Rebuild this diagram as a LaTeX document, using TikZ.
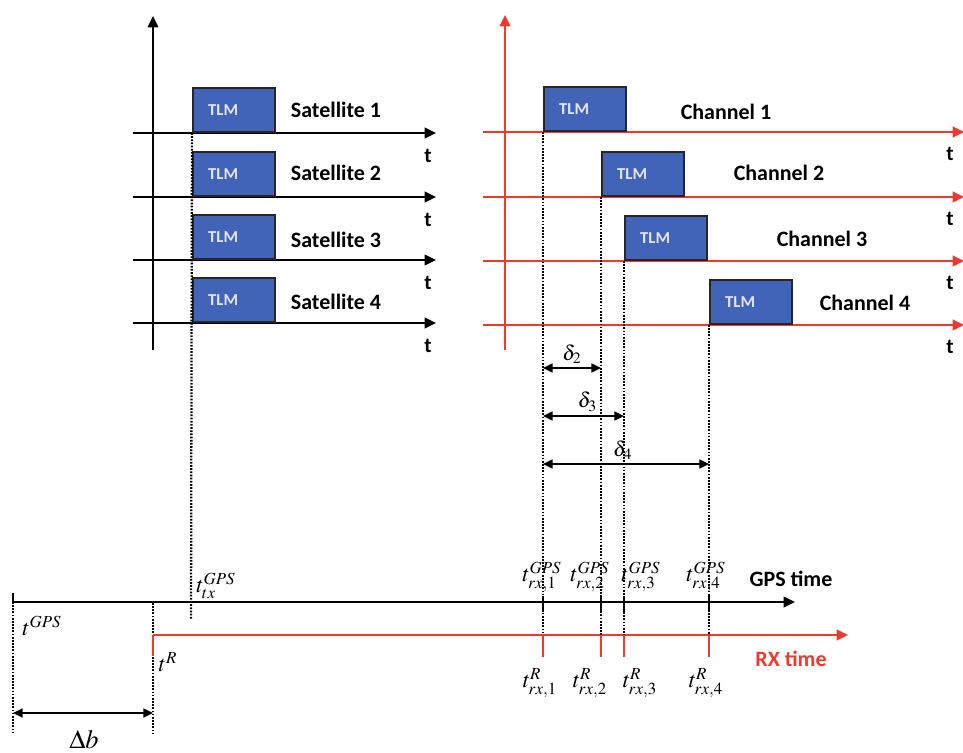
\documentclass[tikz,border=0pt]{standalone}
\usepackage{mathptmx}
\usepackage[no-math]{fontspec}
\setsansfont{Carlito}
\usetikzlibrary{arrows.meta,positioning}
\definecolor{tlmblue}{RGB}{66,100,184}
\definecolor{rxred}{RGB}{238,58,44}
\tikzset{
  axis/.style={draw=black, line width=1.2pt, -{Triangle[length=6.5pt,width=6pt]}},
  raxis/.style={draw=rxred, line width=1.4pt, -{Triangle[length=6.5pt,width=6pt]}},
  tlm/.style={draw=black!85, line width=1.4pt, fill=tlmblue, anchor=south west,
    minimum width=1.64cm, minimum height=0.88cm, inner xsep=0.3cm, inner ysep=0pt,
    text width=1.04cm, align=left, text=white!90!blue, font=\sffamily\bfseries\fontsize{9.5}{11}\selectfont},
  sigtxt/.style={font=\sffamily\bfseries\fontsize{12.5}{14}\selectfont},
  tlbl/.style={font=\sffamily\bfseries\fontsize{12}{14}\selectfont},
  vdot/.style={draw=black, line width=1.3pt, dash pattern=on 1pt off 0.8pt},
  gap/.style={draw=black, line width=1.2pt,
    {Triangle[length=5.5pt,width=5pt]}-{Triangle[length=5.5pt,width=5pt]}},
  mlbl/.style={font=\fontsize{13}{15}\selectfont, inner sep=1pt},
  dlbl/.style={font=\fontsize{12}{14}\selectfont, inner sep=1pt, above=1pt}
}
\begin{document}
\begin{tikzpicture}[x=0.02cm, y=-0.02cm]
  \useasboundingbox (0,0) rectangle (963,753);
  % satellites
  \coordinate (sbot) at (153,350);
  \coordinate (stop) at (153,16);
  \draw[axis] (sbot) -- (stop);
  \foreach \i/\y/\ly in {1/133/110,2/197/173,3/260/240,4/323/302} {
    \coordinate (sa\i) at (133,\y);
    \coordinate (sb\i) at (436,\y);
    \draw[axis] (sa\i) -- (sb\i);
    \node[tlm] (sat\i) at (192,\y) {TLM};
    \node[sigtxt] at (336,\ly) {Satellite \i};
    \node[tlbl] at (428,\y+23) {t};
  }
  % channels
  \coordinate (cbot) at (505,350);
  \coordinate (ctop) at (505,15);
  \draw[raxis] (cbot) -- (ctop);
  \foreach \i/\y/\bx/\lx/\ly in {1/132/543/726/112,2/197/601/779/173,
                                 3/261/624/822/239,4/325/709/865/303} {
    \coordinate (ca\i) at (483,\y);
    \coordinate (cb\i) at (964,\y);
    \draw[raxis] (ca\i) -- (cb\i);
    \node[tlm] (ch\i) at (\bx,\y) {TLM};
    \node[sigtxt] at (\lx,\ly) {Channel \i};
    \node[tlbl] at (950,\y+22) {t};
    \coordinate (rx\i) at (\bx,635);
  }

  % time axes
  \coordinate (g0) at (13,602);
  \coordinate (g1) at (795,602);
  \coordinate (r0) at (153,635);
  \coordinate (r1) at (848,635);
  \draw[axis] (g0) -- (g1);
  \draw[raxis] (r0) -- (r1);
  \node[sigtxt] at (791,579) {GPS time};
  \node[sigtxt, text=rxred] at (791,659) {RX time};

  % dotted guides
  \coordinate (ttx) at (191,620);
  \draw[vdot] (sat1.south west) -- (ttx);
  \foreach \i in {1,...,4} {
    \draw[vdot] (ch\i.south west) -- (rx\i);
    \draw[line width=1.2pt] (rx\i |- {0,596}) -- (rx\i |- {0,612});
    \draw[rxred, line width=1.4pt] (rx\i) -- (rx\i |- {0,657});
  }
  \coordinate (b0) at (13,732);
  \coordinate (b1) at (153,735);
  \draw[line width=1.2pt] (13,593) -- (g0);
  \draw[vdot] (g0) -- (b0);
  \draw[vdot] (153,603) -- (b1);
  \draw[rxred, line width=1.4pt] (r0) -- (153,656);

  % offsets
  \draw[gap] (543,368) -- node[dlbl]{$\delta_2$} (601,368);
  \draw[gap] (543,416) -- node[dlbl,pos=0.55]{$\delta_3$} (624,416);
  \draw[gap] (543,464) -- node[dlbl,pos=0.48]{$\delta_4$} (709,464);
  \draw[gap] (13,713) -- (153,713);
  \node[mlbl, font=\fontsize{15}{17}\selectfont, anchor=north] (db) at (84,728) {$\Delta b$};

  % time labels
  \node[mlbl] (tgps) at (42,626) {$t^{GPS}$};
  \node[mlbl] (tr) at (168,662) {$t^{R}$};
  \node[mlbl] (ttxl) at (216,586) {$t^{GPS}_{tx}$};
  \foreach \i/\gx/\rx in {1/542/540,2/590/590,3/641/640,4/706/706} {
    \node[mlbl] (tg\i) at (\gx,577) {$t^{GPS}_{rx,\i}$};
    \node[mlbl] (tr\i) at (\rx,683) {$t^{R}_{rx,\i}$};
  }
\end{tikzpicture}
\end{document}
